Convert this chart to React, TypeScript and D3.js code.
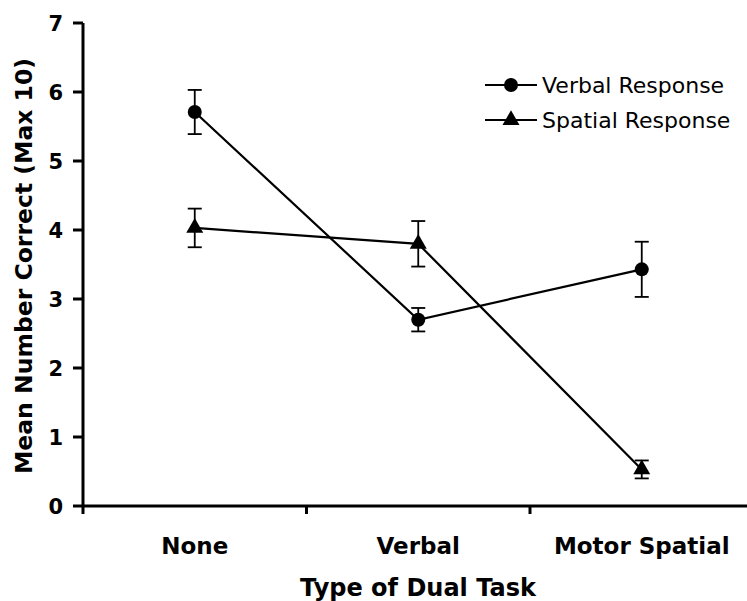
import React from "react";
import * as d3 from "d3";

const categories = ["None", "Verbal", "Motor Spatial"];
const verbalMeans = [5.71, 2.7, 3.43];
const verbalErr = [0.32, 0.17, 0.4];
const spatialMeans = [4.03, 3.8, 0.53];
const spatialErr = [0.28, 0.33, 0.13];
const yTicks = [0, 1, 2, 3, 4, 5, 6, 7];
const seriesNames = ["Verbal Response", "Spatial Response"];

const W = 747;
const H = 601;
const FONT = "'DejaVu Sans', Verdana, sans-serif";

export default function App() {
  const x = d3.scaleBand<string>().domain(categories).range([83, 753.5]).padding(0);
  const y = d3.scaleLinear().domain([0, 7]).range([506, 23]);
  const cx = (c: string) => (x(c) as number) + x.bandwidth() / 2;

  const line = d3
    .line<[number, number]>()
    .x((d) => d[0])
    .y((d) => d[1]);

  const series = [
    { name: seriesNames[0], means: verbalMeans, errs: verbalErr, shape: "circle" },
    { name: seriesNames[1], means: spatialMeans, errs: spatialErr, shape: "triangle" },
  ];

  const tri = d3.symbol().type(d3.symbolTriangle).size(125)() as string;

  const marker = (shape: string, px: number, py: number, key: string) =>
    shape === "circle" ? (
      <circle key={key} cx={px} cy={py} r={7} fill="#000" />
    ) : (
      <path key={key} d={tri} transform={`translate(${px},${py})`} fill="#000" />
    );

  const boundaries = categories.map((c) => x(c) as number);

  return (
    <div style={{ position: "absolute", left: 0, top: 0 }}>
      <svg width={W} height={H} style={{ display: "block", background: "#fff" }}>
        {/* error bars */}
        {series.map((s, si) =>
          categories.map((c, i) => {
            const px = cx(c);
            const top = y(s.means[i] + s.errs[i]);
            const bot = y(s.means[i] - s.errs[i]);
            return (
              <g key={`e${si}-${i}`} stroke="#000" strokeWidth={1.8}>
                <line x1={px} x2={px} y1={top} y2={bot} />
                <line x1={px - 7} x2={px + 7} y1={top} y2={top} />
                <line x1={px - 7} x2={px + 7} y1={bot} y2={bot} />
              </g>
            );
          })
        )}
        {/* lines */}
        {series.map((s, si) => (
          <path
            key={`l${si}`}
            d={line(categories.map((c, i) => [cx(c), y(s.means[i])])) as string}
            fill="none"
            stroke="#000"
            strokeWidth={2.2}
          />
        ))}
        {/* markers */}
        {series.map((s, si) =>
          categories.map((c, i) => marker(s.shape, cx(c), y(s.means[i]), `m${si}-${i}`))
        )}

        {/* y axis */}
        <line x1={83} x2={83} y1={y(7)} y2={514} stroke="#000" strokeWidth={3} />
        {yTicks.map((t) => (
          <g key={`yt${t}`}>
            <line x1={73} x2={83} y1={y(t)} y2={y(t)} stroke="#000" strokeWidth={3} />
            <text
              x={63}
              y={y(t)}
              dy="0.36em"
              textAnchor="end"
              fontFamily={FONT}
              fontWeight="bold"
              fontSize={21}
            >
              {t}
            </text>
          </g>
        ))}
        {/* x axis */}
        <line x1={83} x2={760} y1={y(0)} y2={y(0)} stroke="#000" strokeWidth={3} />
        {boundaries.slice(1).map((b, i) => (
          <line key={`xb${i}`} x1={b} x2={b} y1={y(0)} y2={514} stroke="#000" strokeWidth={3} />
        ))}
        {categories.map((c) => (
          <text
            key={`xl${c}`}
            x={cx(c)}
            y={554}
            textAnchor="middle"
            fontFamily={FONT}
            fontWeight="bold"
            fontSize={23}
          >
            {c}
          </text>
        ))}
        <text
          x={418}
          y={596}
          textAnchor="middle"
          fontFamily={FONT}
          fontWeight="bold"
          fontSize={24}
        >
          Type of Dual Task
        </text>
        <text
          transform={`translate(32,266) rotate(-90)`}
          textAnchor="middle"
          fontFamily={FONT}
          fontWeight="bold"
          fontSize={23.5}
        >
          Mean Number Correct (Max 10)
        </text>

        {/* legend */}
        {series.map((s, si) => {
          const ly = 85 + si * 35;
          return (
            <g key={`lg${si}`}>
              <line x1={485} x2={537} y1={ly} y2={ly} stroke="#000" strokeWidth={2.2} />
              {marker(s.shape, 511, ly, `lgm${si}`)}
              <text x={542} y={ly} dy="0.36em" fontFamily={FONT} fontSize={22}>
                {s.name}
              </text>
            </g>
          );
        })}
      </svg>
    </div>
  );
}
